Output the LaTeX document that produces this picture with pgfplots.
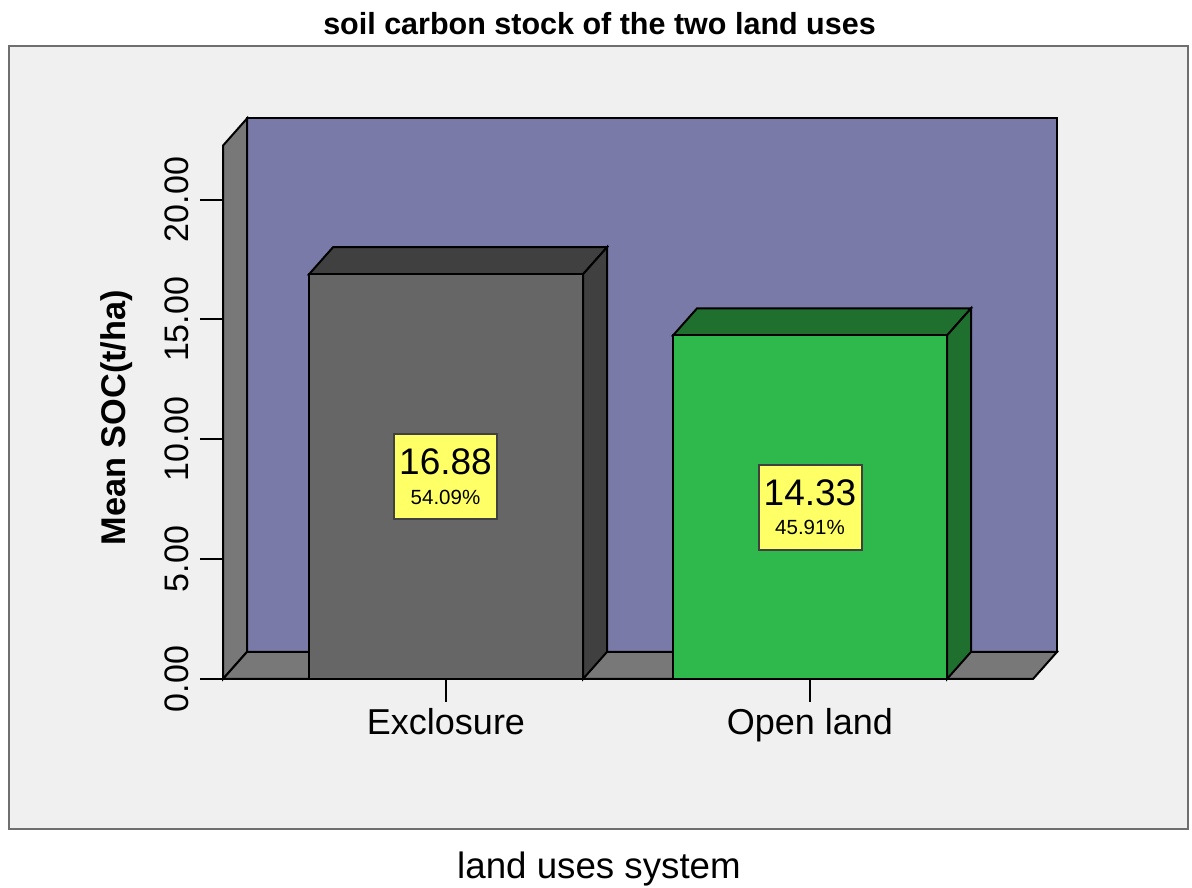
\documentclass[border=0pt]{standalone}
\usepackage{fontspec}
\setmainfont{Liberation Sans}
\usepackage{pgfplots}
\pgfplotsset{compat=1.18}
\definecolor{panel}{HTML}{F0F0F0}
\definecolor{panelline}{HTML}{6F6F6F}
\definecolor{wall}{HTML}{7A7AA8}
\definecolor{floorgrey}{HTML}{787878}
\definecolor{barone}{HTML}{666666}
\definecolor{baronedark}{HTML}{404040}
\definecolor{bartwo}{HTML}{2FB84C}
\definecolor{bartwodark}{HTML}{1F702F}
\definecolor{labelbox}{HTML}{FFFF66}
\newcommand{\sz}[1]{\fontsize{#1}{#1}\selectfont}
\begin{document}
\begin{tikzpicture}[x=1pt,y=1pt]
\path (0,0) rectangle (1192,888);
\draw[panelline,line width=2.4pt,fill=panel] (9,59) rectangle (1188,842);
\begin{axis}[
  at={(223pt,209pt)},anchor=south west,
  scale only axis,width=810pt,height=533.4pt,
  xmin=223,xmax=1033,ymin=0,ymax=22.25,
  clip=false,
  axis x line=bottom,axis y line=left,
  axis line style={-,black,line width=2pt},
  every tick/.style={black,line width=2pt},
  tick align=outside,major tick length=23pt,
  xtick={446,810},xticklabels={Exclosure,Open land},
  ytick={0,5,10,15,20},
  xtick pos=bottom,ytick pos=left,
  /pgf/number format/assume math mode=true,
  /pgf/number format/fixed,/pgf/number format/fixed zerofill,/pgf/number format/precision=2,
  xticklabel style={font=\sz{36},anchor=north,inner sep=0pt,yshift=-6pt},
  yticklabel style={font=\sz{34},rotate=90,anchor=south,inner sep=0pt,yshift=11pt},
  title={\textbf{soil carbon stock of the two land uses}},
  title style={font=\sz{30.5},at={(axis cs:599.5,27.1)},anchor=center,inner sep=0pt},
  xlabel={land uses system},
  xlabel style={font=\sz{36.7},at={(axis cs:599,-7.93)},anchor=center,inner sep=0pt},
  ylabel={\textbf{Mean SOC(t/ha)}},
  ylabel style={font=\sz{34.3},at={(axis cs:117,10.9)},anchor=center,inner sep=0pt},
]
% shell of the box: back wall, left wall, floor
\addplot[draw=black,line width=2pt,fill=wall] coordinates {(247,1.13)(1057,1.13)(1057,23.38)(247,23.38)} --cycle;
\addplot[draw=black,line width=2pt,fill=floorgrey] coordinates {(223,0)(247,1.13)(247,23.38)(223,22.25)} --cycle;
\addplot[draw=black,line width=2pt,fill=floorgrey] coordinates {(223,0)(247,1.13)(1057,1.13)(1033,0)} --cycle;
% Exclosure: top face, side face, front
\addplot[draw=black,line width=2pt,fill=baronedark] coordinates {(309,16.88)(333,18.01)(607,18.01)(583,16.88)} --cycle;
\addplot[draw=black,line width=2pt,fill=baronedark] coordinates {(583,0)(607,1.13)(607,18.01)(583,16.88)} --cycle;
\addplot[ybar,bar width=274pt,draw=black,line width=2pt,fill=barone] coordinates {(446,16.88)};
% Open land: top face, side face, front
\addplot[draw=black,line width=2pt,fill=bartwodark] coordinates {(673,14.33)(697,15.46)(971,15.46)(947,14.33)} --cycle;
\addplot[draw=black,line width=2pt,fill=bartwodark] coordinates {(947,0)(971,1.13)(971,15.46)(947,14.33)} --cycle;
\addplot[ybar,bar width=274pt,draw=black,line width=2pt,fill=bartwo] coordinates {(810,14.33)};
% value labels at half the bar height
\node[draw=baronedark,line width=2pt,fill=labelbox,minimum width=103pt,minimum height=85pt,inner sep=0pt,align=center] at (axis cs:445.5,8.44) {\sz{37}16.88\\[14pt]\sz{20.5}54.09\%};
\node[draw=baronedark,line width=2pt,fill=labelbox,minimum width=103pt,minimum height=85pt,inner sep=0pt,align=center] at (axis cs:810,7.165) {\sz{37}14.33\\[14pt]\sz{20.5}45.91\%};
\end{axis}
\end{tikzpicture}
\end{document}
